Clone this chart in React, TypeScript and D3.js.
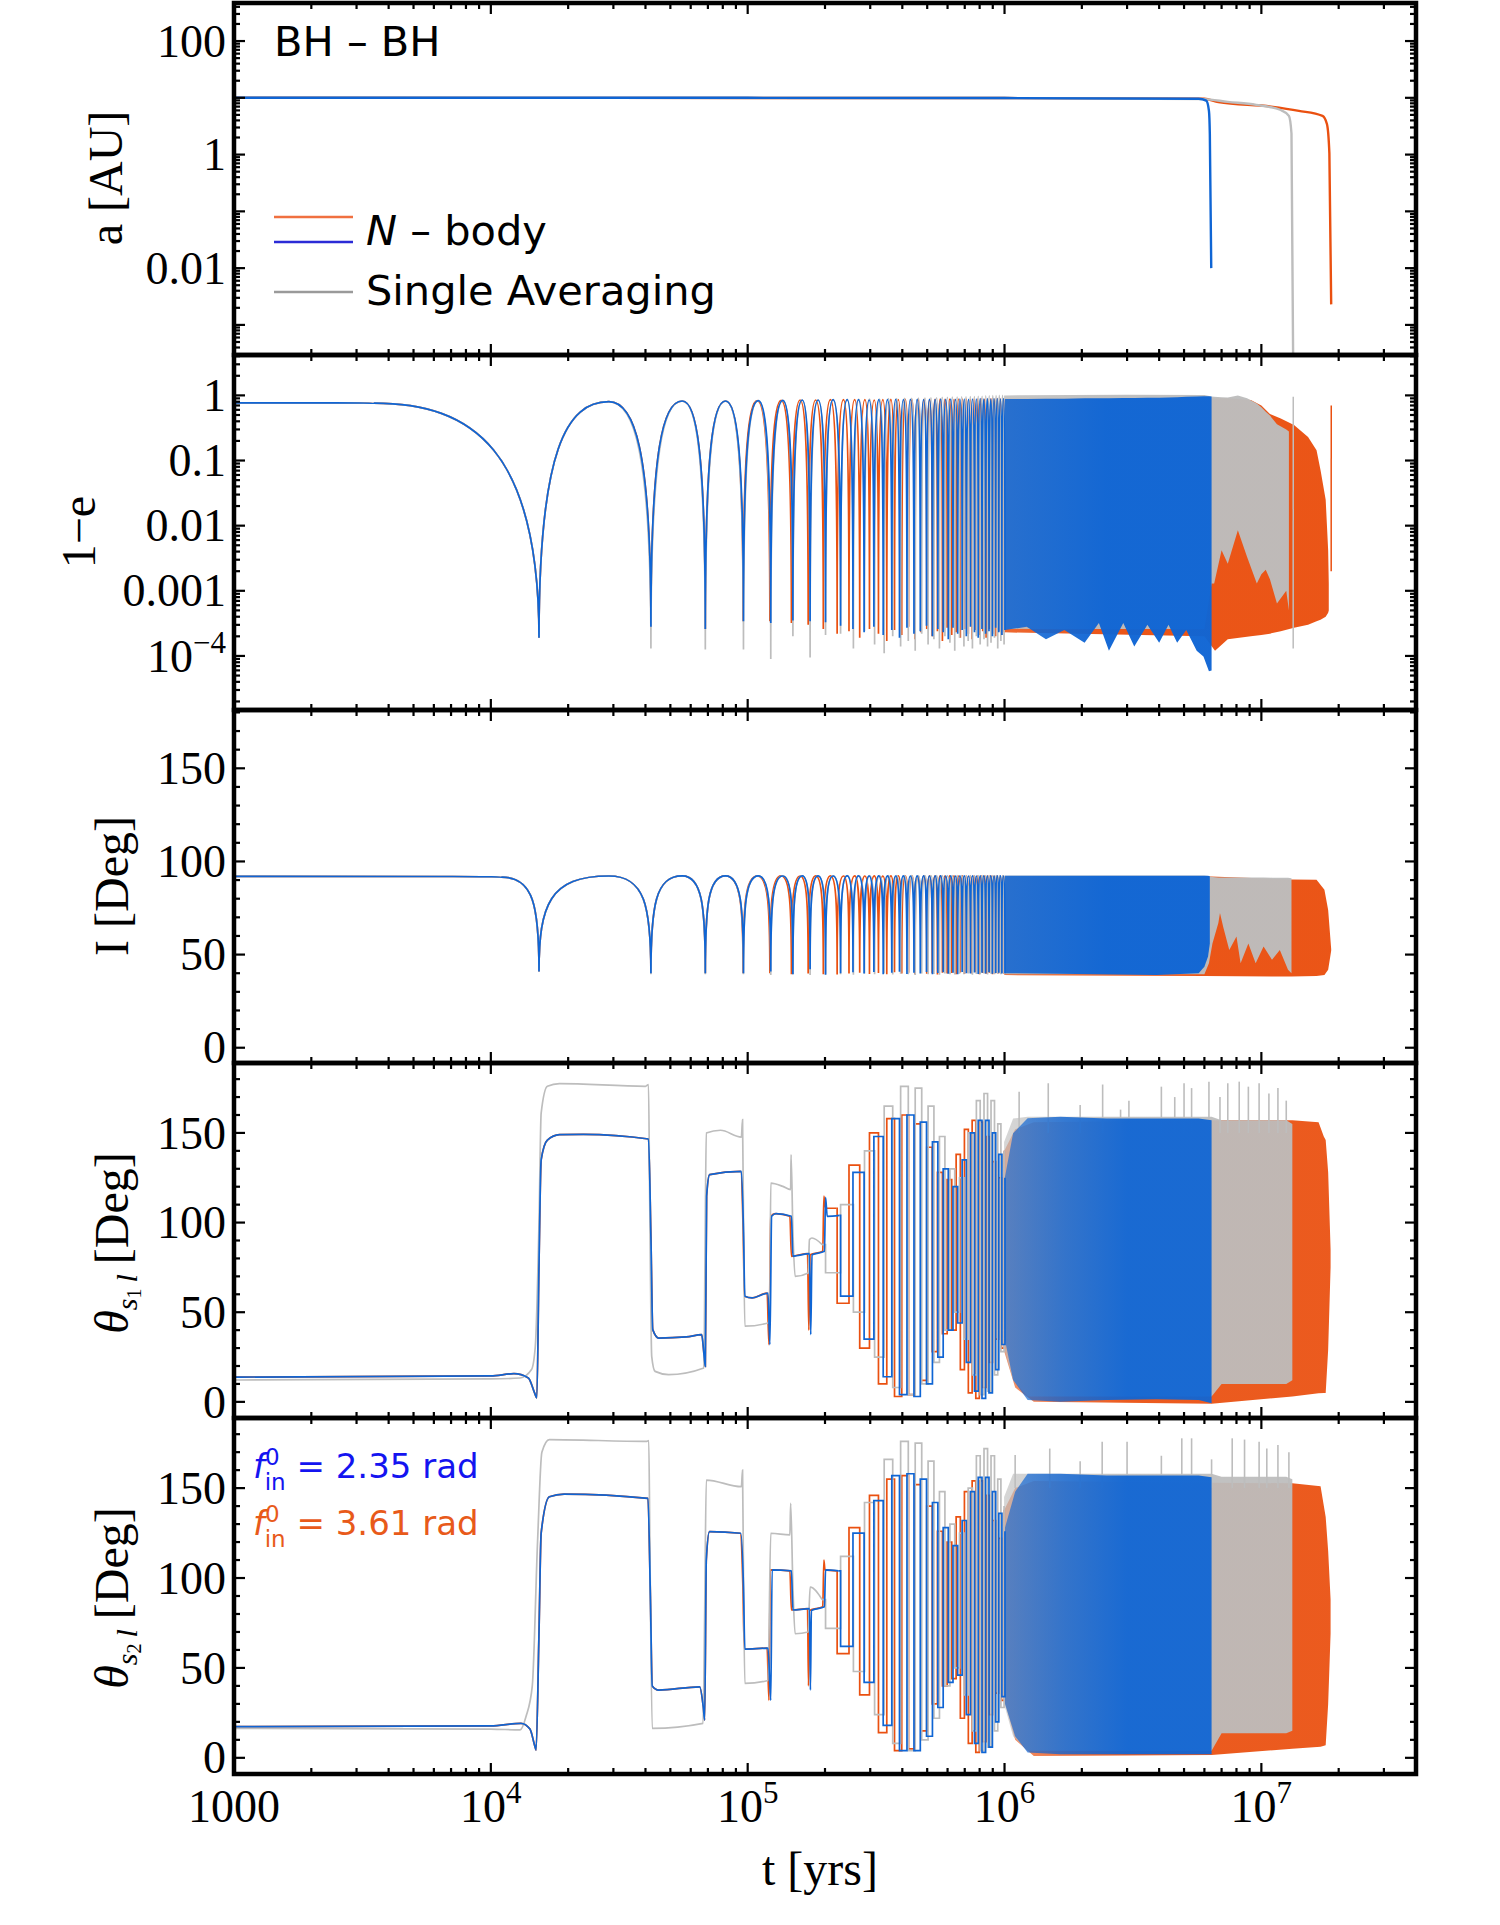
import React from "react";
import * as d3 from "d3";

type P = [number, number];
type B = [number, number, number];

// ---------------- data ----------------
const tDomain: [number, number] = [1000, 4e7];
const xTickVals = [1e3, 1e4, 1e5, 1e6, 1e7];
const xTickBase = ["1000", "10", "10", "10", "10"];
const xTickExp = ["", "4", "5", "6", "7"];

// times of the eccentricity maxima (dips of 1-e) and of the minima between them
const blueDipT = [1.54e4, 4.2e4, 6.84e4, 9.63e4, 1.23e5, 1.5e5, 1.75e5, 2.01e5, 2.3e5, 2.57e5, 2.84e5, 3.1e5, 3.37e5, 3.64e5, 3.9e5, 4.17e5, 4.44e5, 4.7e5, 4.97e5, 5.24e5, 5.5e5, 5.77e5, 6.04e5, 6.3e5, 6.57e5, 6.84e5, 7.1e5, 7.37e5, 7.64e5, 7.9e5, 8.17e5, 8.44e5, 8.7e5, 8.97e5, 9.24e5, 9.5e5, 9.77e5, 1.004e6];
const bluePeakT = [2.88e4, 5.56e4, 8.2e4, 1.1e5, 1.37e5, 1.63e5, 1.88e5, 2.15e5, 2.44e5, 2.7e5, 2.97e5, 3.24e5, 3.5e5, 3.77e5, 4.04e5, 4.3e5, 4.57e5, 4.84e5, 5.1e5, 5.37e5, 5.64e5, 5.9e5, 6.17e5, 6.44e5, 6.7e5, 6.97e5, 7.24e5, 7.5e5, 7.77e5, 8.04e5, 8.3e5, 8.57e5, 8.84e5, 9.1e5, 9.37e5, 9.64e5, 9.9e5];
const orangeDipT = [1.54e4, 4.2e4, 6.84e4, 9.6e4, 1.22e5, 1.48e5, 1.72e5, 1.97e5, 2.23e5, 2.48e5, 2.73e5, 2.98e5, 3.23e5, 3.48e5, 3.73e5, 3.98e5, 4.23e5, 4.48e5, 4.73e5, 4.98e5, 5.23e5, 5.48e5, 5.73e5, 5.98e5, 6.23e5, 6.48e5, 6.73e5, 6.98e5, 7.23e5, 7.48e5, 7.73e5, 7.98e5, 8.23e5, 8.48e5, 8.73e5, 8.98e5, 9.23e5, 9.48e5, 9.73e5, 9.98e5];
const orangePeakT = [2.88e4, 5.56e4, 8.2e4, 1.09e5, 1.35e5, 1.6e5, 1.84e5, 2.1e5, 2.36e5, 2.61e5, 2.86e5, 3.11e5, 3.36e5, 3.61e5, 3.86e5, 4.11e5, 4.36e5, 4.61e5, 4.86e5, 5.11e5, 5.36e5, 5.61e5, 5.86e5, 6.11e5, 6.36e5, 6.61e5, 6.86e5, 7.11e5, 7.36e5, 7.61e5, 7.86e5, 8.11e5, 8.36e5, 8.61e5, 8.86e5, 9.11e5, 9.36e5, 9.61e5, 9.86e5];
const grayDipT = [1.54e4, 4.2e4, 6.84e4, 9.63e4, 1.23e5, 1.5e5, 1.75e5, 2.01e5, 2.3e5, 2.58e5, 2.85e5, 3.12e5, 3.4e5, 3.67e5, 3.94e5, 4.22e5, 4.49e5, 4.76e5, 5.04e5, 5.31e5, 5.58e5, 5.86e5, 6.13e5, 6.4e5, 6.68e5, 6.95e5, 7.22e5, 7.5e5, 7.77e5, 8.04e5, 8.32e5, 8.59e5, 8.86e5, 9.14e5, 9.41e5, 9.68e5, 9.96e5];
const grayPeakT = [2.88e4, 5.56e4, 8.2e4, 1.1e5, 1.37e5, 1.63e5, 1.88e5, 2.15e5, 2.44e5, 2.71e5, 2.98e5, 3.26e5, 3.53e5, 3.8e5, 4.08e5, 4.35e5, 4.62e5, 4.9e5, 5.17e5, 5.44e5, 5.72e5, 5.99e5, 6.26e5, 6.54e5, 6.81e5, 7.08e5, 7.36e5, 7.63e5, 7.9e5, 8.18e5, 8.45e5, 8.72e5, 9.0e5, 9.27e5, 9.54e5, 9.82e5];

// panel 1: a [AU]
const aOrange: P[] = [[1e3, 10], [1e6, 9.9], [6.0e6, 9.6], [6.8e6, 8.4], [1.09e7, 7.0], [1.4e7, 5.9], [1.73e7, 4.8], [1.8e7, 3.45], [1.84e7, 1.05], [1.87e7, 0.0023]];
const aGray: P[] = [[1e3, 10], [1e6, 9.9], [5.97e6, 9.5], [7.4e6, 8.5], [9.55e6, 7.5], [1.19e7, 6.1], [1.28e7, 4.8], [1.31e7, 2.35], [1.33e7, 2e-4]];
const aBlue: P[] = [[1e3, 10], [1e5, 10], [1e6, 9.9], [5.7e6, 9.6], [6.1e6, 8.9], [6.25e6, 5.9], [6.3e6, 2.3], [6.38e6, 0.01]];
const aTicks = [100, 1, 0.01];
const aTickText = ["100", "1", "0.01"];

// panel 2: 1-e
const eStart: P[] = [[1e3, 0.77], [3.5e3, 0.76]];
const eBlueDipV = [1.9e-4, 2.8e-4, 2.6e-4, 3.4e-4, 3.2e-4, 3.5e-4, 3.4e-4, 3.3e-4, 2.9e-4, 2.6e-4, 2.3e-4, 2.8e-4, 2.1e-4, 2.5e-4, 1.9e-4, 2.7e-4, 2.2e-4, 2.4e-4, 2.9e-4, 2.0e-4, 2.6e-4, 2.3e-4, 1.8e-4, 2.7e-4, 2.2e-4, 2.5e-4, 2.0e-4, 2.8e-4, 2.3e-4, 1.9e-4, 2.6e-4, 2.2e-4, 2.4e-4, 2.0e-4, 2.7e-4, 2.3e-4, 2.1e-4, 2.5e-4];
const eBluePeakV = [0.8, 0.82, 0.82, 0.83, 0.84, 0.85, 0.85, 0.86, 0.86, 0.86, 0.85, 0.86, 0.86, 0.87, 0.86, 0.87, 0.87, 0.86, 0.87, 0.87, 0.88, 0.87, 0.88, 0.87, 0.88, 0.88, 0.87, 0.88, 0.88, 0.89, 0.88, 0.89, 0.88, 0.89, 0.89, 0.88, 0.89];
const eOrangeDipV = [1.9e-4, 2.8e-4, 2.6e-4, 3.4e-4, 3.4e-4, 3.2e-4, 3.0e-4, 2.6e-4, 2.2e-4, 2.4e-4, 1.9e-4, 2.6e-4, 2.2e-4, 1.7e-4, 2.5e-4, 2.1e-4, 2.8e-4, 1.8e-4, 2.3e-4, 2.6e-4, 2.0e-4, 2.4e-4, 1.7e-4, 2.7e-4, 2.1e-4, 2.3e-4, 1.9e-4, 2.6e-4, 2.2e-4, 1.8e-4, 2.5e-4, 2.1e-4, 2.4e-4, 1.9e-4, 2.6e-4, 2.2e-4, 2.0e-4, 2.4e-4, 2.1e-4, 2.3e-4];
const eOrangePeakV = [0.8, 0.82, 0.82, 0.83, 0.84, 0.85, 0.85, 0.86, 0.86, 0.86, 0.86, 0.85, 0.86, 0.87, 0.86, 0.87, 0.86, 0.87, 0.87, 0.87, 0.87, 0.88, 0.87, 0.88, 0.87, 0.88, 0.88, 0.88, 0.87, 0.88, 0.88, 0.89, 0.88, 0.88, 0.89, 0.88, 0.89, 0.89, 0.89];
const eGrayDipV = [1.9e-4, 1.3e-4, 1.25e-4, 1.25e-4, 9e-5, 2e-4, 9.5e-5, 2.1e-4, 2.2e-4, 1.3e-4, 2.4e-4, 1.5e-4, 1.1e-4, 2.0e-4, 1.4e-4, 1.7e-4, 1.2e-4, 2.2e-4, 1.5e-4, 1.8e-4, 1.3e-4, 2.0e-4, 1.6e-4, 1.2e-4, 1.9e-4, 1.4e-4, 1.7e-4, 1.3e-4, 2.0e-4, 1.5e-4, 1.8e-4, 1.4e-4, 1.6e-4, 1.9e-4, 1.3e-4, 1.7e-4, 1.5e-4];
const eGrayPeakV = [0.8, 0.82, 0.82, 0.83, 0.84, 0.85, 0.85, 0.86, 0.87, 0.87, 0.88, 0.88, 0.89, 0.89, 0.9, 0.9, 0.91, 0.91, 0.92, 0.92, 0.93, 0.93, 0.94, 0.94, 0.95, 0.95, 0.96, 0.96, 0.97, 0.97, 0.98, 0.98, 0.99, 0.99, 1.0, 1.0];
// dense part: [t, lower envelope, upper envelope]
const eOrangeBand: B[] = [[9.98e5, 2.3e-4, 0.89], [6.0e6, 2.0e-4, 0.9], [6.6e6, 1.2e-4, 0.9], [7.4e6, 1.8e-4, 0.9], [9.1e6, 2.0e-4, 0.85], [1.0e7, 2.1e-4, 0.7], [1.08e7, 2.2e-4, 0.52], [1.19e7, 2.4e-4, 0.44], [1.34e7, 2.7e-4, 0.35], [1.52e7, 3.0e-4, 0.23], [1.64e7, 3.4e-4, 0.144], [1.7e7, 3.6e-4, 0.071], [1.78e7, 4.0e-4, 0.025], [1.82e7, 4.6e-4, 4.2e-3], [1.83e7, 5.0e-4, 1.3e-3]];
const eGrayBand: B[] = [[9.96e5, 2.6e-4, 1.0], [3e6, 2.6e-4, 1.02], [6.0e6, 2.6e-4, 1.01], [6.4e6, 1.3e-3, 0.96], [6.55e6, 1.3e-3, 0.95], [7.0e6, 4.2e-3, 0.94], [7.4e6, 2.6e-3, 0.93], [8.1e6, 8.5e-3, 1.0], [8.8e6, 3.3e-3, 0.9], [9.6e6, 1.3e-3, 0.75], [1.0e7, 1.8e-3, 0.66], [1.04e7, 2.1e-3, 0.56], [1.08e7, 1.5e-3, 0.49], [1.15e7, 6.4e-4, 0.36], [1.25e7, 1.0e-3, 0.3], [1.28e7, 5e-4, 0.28]];
const eBlueBand: B[] = [[1.004e6, 2.5e-4, 0.88], [1.22e6, 2.8e-4, 0.88], [1.45e6, 1.8e-4, 0.89], [1.71e6, 2.5e-4, 0.89], [2.05e6, 1.6e-4, 0.9], [2.33e6, 3.2e-4, 0.9], [2.55e6, 1.2e-4, 0.9], [2.9e6, 3.2e-4, 0.91], [3.2e6, 1.4e-4, 0.91], [3.6e6, 3.0e-4, 0.92], [4.0e6, 1.6e-4, 0.92], [4.35e6, 3.0e-4, 0.93], [4.7e6, 1.6e-4, 0.94], [5.1e6, 2.5e-4, 0.95], [5.6e6, 1.2e-4, 0.96], [5.95e6, 9.8e-5, 0.97], [6.25e6, 5.8e-5, 0.97], [6.4e6, 6e-5, 0.96]];
const eOrangeTail: P[] = [[1.87e7, 2.0e-3], [1.871e7, 0.7]];
const eGrayTail: P[] = [[1.33e7, 1.3e-4], [1.331e7, 0.95]];
const eTicks = [1, 0.1, 0.01, 0.001, 1e-4];
const eTickText = ["1", "0.1", "0.01", "0.001", "10"];
const eTickExp = ["", "", "", "", "\u22124"];

// panel 3: I [Deg]
const iStart: P[] = [[1e3, 92], [1.1e4, 91.6]];
const iBlueDipV = [40.9, 40, 40, 40, 40.9, 39.5, 42.1, 39.2, 40, 40.5, 39.8, 40.6, 39.5, 40.2, 40.8, 39.6, 40.3, 39.9, 40.7, 39.4, 40.1, 40.5, 39.7, 40.2, 39.5, 40.6, 40, 39.8, 40.4, 39.6, 40.2, 39.9, 40.5, 39.7, 40.1, 40.3, 39.8, 40];
const iBluePeakV = [92.2, 92.3, 92.3, 92.3, 92.2, 92.3, 92.3, 92.2, 92.3, 92.3, 92.2, 92.3, 92.3, 92.2, 92.3, 92.2, 92.3, 92.3, 92.2, 92.3, 92.3, 92.2, 92.3, 92.2, 92.3, 92.3, 92.2, 92.3, 92.2, 92.3, 92.3, 92.2, 92.3, 92.2, 92.3, 92.3, 92.2];
const iOrangeDipV = [40.9, 40, 40, 40, 40, 39.5, 39.8, 39.5, 39.3, 39.8, 40.3, 39.6, 40.1, 39.4, 40.5, 39.9, 40.2, 39.5, 40.4, 39.7, 40, 39.3, 40.3, 39.8, 40.1, 39.5, 40.4, 39.6, 40.2, 39.9, 40.5, 39.4, 40.1, 39.7, 40.3, 39.5, 40, 39.8, 40.2, 39.6];
const iOrangePeakV = [92.2, 92.3, 92.3, 92.2, 92.3, 92.2, 92.3, 92.3, 92.2, 92.3, 92.2, 92.3, 92.2, 92.3, 92.3, 92.2, 92.3, 92.2, 92.3, 92.3, 92.2, 92.3, 92.2, 92.3, 92.3, 92.2, 92.3, 92.2, 92.3, 92.3, 92.2, 92.3, 92.2, 92.3, 92.3, 92.2, 92.3, 92.2, 92.3];
const iGrayDipV = [40.9, 39.5, 39.5, 39.5, 39, 39.5, 39, 39.5, 39.5, 39.2, 39.8, 39.4, 39.9, 39.3, 39.7, 39.5, 39.1, 39.8, 39.4, 39.6, 39.2, 39.9, 39.5, 39.3, 39.7, 39.4, 39.8, 39.2, 39.6, 39.5, 39.9, 39.3, 39.7, 39.4, 39.6, 39.5, 39.8];
const iGrayPeakV = [92.2, 92.3, 92.3, 92.3, 92.3, 92.3, 92.3, 92.3, 92.4, 92.4, 92.4, 92.4, 92.4, 92.4, 92.4, 92.4, 92.4, 92.4, 92.4, 92.4, 92.4, 92.4, 92.4, 92.4, 92.4, 92.4, 92.4, 92.4, 92.4, 92.4, 92.4, 92.4, 92.4, 92.4, 92.4, 92.4];
const iOrangeBand: B[] = [[9.98e5, 39, 92], [6e6, 38.5, 92], [1.31e7, 38.2, 90.3], [1.64e7, 38.5, 90.2], [1.76e7, 39, 84.8], [1.82e7, 41.8, 74], [1.87e7, 52, 53]];
const iGrayBand: B[] = [[9.96e5, 39.5, 92.4], [6.0e6, 39.5, 92.4], [6.25e6, 45.4, 92], [6.45e6, 56, 91.6], [6.8e6, 66.9, 91.4], [6.9e6, 72.3, 91.4], [7.1e6, 65, 91.4], [7.5e6, 52.5, 91.4], [8.0e6, 59.7, 91.4], [8.3e6, 45.4, 91.4], [8.9e6, 56, 91.4], [9.5e6, 45.4, 91.4], [1.02e7, 54.3, 91.4], [1.1e7, 47.2, 91.3], [1.18e7, 52.5, 91.2], [1.27e7, 41.8, 91.2], [1.31e7, 40, 91]];
const iBlueBand: B[] = [[1.004e6, 40, 92.3], [3.9e6, 39, 92.3], [5.7e6, 40, 92.3], [6.0e6, 43.5, 92.3], [6.2e6, 49, 92.3], [6.3e6, 56, 92]];
const angTicks = [0, 50, 100, 150];

// panel 4: theta_{s1 l} [Deg]; detailed early part, then level held after each dip
const th1Orange: P[] = [[1e3, 13.8], [1e4, 14.5], [1.23e4, 15.7], [1.4e4, 13.3], [1.48e4, 5], [1.51e4, 2.2], [1.54e4, 77], [1.57e4, 135], [1.66e4, 146], [1.85e4, 149], [2.29e4, 149.2], [4.11e4, 146.6], [4.2e4, 92], [4.27e4, 40.3], [4.51e4, 35.6], [5.77e4, 36.2], [6.62e4, 37.5], [6.77e4, 25.4], [6.84e4, 19.8], [6.92e4, 114.7], [7.11e4, 126.7], [9.4e4, 128.6], [9.6e4, 96], [9.72e4, 58.9], [1.04e5, 58], [1.19e5, 60.7], [1.21e5, 31.9], [1.23e5, 103.5], [1.28e5, 105], [1.46e5, 103.5], [1.48e5, 81.2], [1.53e5, 81.5], [1.71e5, 82.7], [1.73e5, 40], [1.75e5, 82], [1.96e5, 84], [1.98e5, 114.7], [2.01e5, 108], [2.21e5, 108]];
const th1Gray: P[] = [[1e3, 12.2], [1e4, 12.8], [1.3e4, 13.3], [1.44e4, 18], [1.49e4, 31], [1.54e4, 100], [1.57e4, 161], [1.66e4, 176], [1.85e4, 177.5], [4.0e4, 176], [4.11e4, 177], [4.15e4, 120], [4.23e4, 25.4], [4.36e4, 17], [4.92e4, 15.2], [6.75e4, 18.9], [6.82e4, 80], [6.9e4, 150], [7.84e4, 151.5], [9.45e4, 147.7], [9.55e4, 157.4], [9.63e4, 100], [9.75e4, 42.2], [1.2e5, 44], [1.22e5, 60], [1.23e5, 122], [1.37e5, 120.2], [1.47e5, 118.4], [1.475e5, 137.9], [1.5e5, 95], [1.53e5, 70], [1.72e5, 71.9], [1.74e5, 90.5], [1.78e5, 91.4], [1.95e5, 87.7]];
const th1Blue: P[] = [[1e3, 13.8], [1e4, 14.5], [1.23e4, 15.7], [1.4e4, 13.3], [1.48e4, 5], [1.51e4, 2.2], [1.54e4, 77], [1.57e4, 135], [1.66e4, 146], [1.85e4, 149], [2.29e4, 149.2], [4.11e4, 146.6], [4.2e4, 92], [4.27e4, 40.3], [4.51e4, 35.6], [5.77e4, 36.2], [6.62e4, 37.5], [6.77e4, 25.4], [6.84e4, 19.8], [6.92e4, 114.7], [7.11e4, 126.7], [9.45e4, 128.6], [9.63e4, 96], [9.75e4, 58.9], [1.04e5, 58], [1.2e5, 60.7], [1.22e5, 31.9], [1.24e5, 103.5], [1.29e5, 105], [1.48e5, 103.5], [1.5e5, 81.2], [1.55e5, 81.5], [1.74e5, 82.7], [1.76e5, 37.5], [1.78e5, 82], [1.99e5, 84], [2.01e5, 114], [2.04e5, 103.5], [2.28e5, 104]];
const th1BlueLevel = [59, 128, 35, 148, 14, 158, 4, 160, 3, 156, 10, 145, 25, 130, 40, 120, 44, 135, 22, 150, 6, 157, 2, 157, 5, 150, 18, 138, 32, 125];
const th1OrangeLevel = [55, 132, 30, 150, 10, 158, 3, 160, 4, 155, 12, 142, 28, 128, 38, 124, 40, 138, 18, 152, 5, 157, 2, 156, 8, 148, 22, 134, 35, 125, 30, 140];
const th1GrayLevel = [72, 110, 50, 140, 25, 165, 8, 176, 4, 175, 10, 165, 22, 148, 40, 130, 50, 125, 35, 150, 15, 168, 4, 172, 6, 168, 15, 155, 28, 140];
const th1OrangeBand: B[] = [[9.98e5, 28, 140], [1.1e6, 8, 152], [1.3e6, 0, 156], [6.4e6, -1, 157], [1.32e7, 3, 157], [1.67e7, 4.8, 156], [1.75e7, 5, 148], [1.78e7, 5, 146], [1.82e7, 29, 128], [1.86e7, 75, 85]];
const th1GrayBand: B[] = [[9.96e5, 30, 145], [1.08e6, 12, 158], [1.23e6, 3, 159], [6.4e6, 3, 159], [7e6, 10, 157], [1.25e7, 10, 157], [1.32e7, 12, 155]];
const th1BlueBand: B[] = [[1.004e6, 34.5, 125.6], [1.08e6, 12.2, 149.8], [1.23e6, 1.1, 158.2], [1.65e6, 0, 159], [2.5e6, 1.1, 158], [3.9e6, 1.5, 158], [5.7e6, 1.1, 158], [6.4e6, -0.8, 157]];
const th1GraySpikes: P[] = [[1.14e6, 173], [1.48e6, 177.7], [1.97e6, 165.6], [2.41e6, 177], [2.83e6, 163], [3.05e6, 168], [4.08e6, 175.8], [4.6e6, 170], [5.0e6, 177.7], [5.35e6, 175], [6.25e6, 178.6], [6.9e6, 170], [7.4e6, 177.7], [8.2e6, 178.6], [8.9e6, 175.8], [9.8e6, 177.7], [1.07e7, 172], [1.16e7, 175], [1.25e7, 168]];

// panel 5: theta_{s2 l} [Deg]
const th2Orange: P[] = [[1e3, 17.3], [1e4, 17.8], [1.31e4, 19.2], [1.42e4, 16], [1.48e4, 7], [1.5e4, 4.3], [1.54e4, 70], [1.57e4, 125], [1.69e4, 145.2], [1.93e4, 146.7], [4.09e4, 144.3], [4.18e4, 90], [4.25e4, 40], [4.5e4, 37.7], [6.5e4, 39.5], [6.72e4, 28], [6.8e4, 21], [6.9e4, 110], [7.1e4, 125.8], [9.35e4, 124.9], [9.58e4, 95], [9.7e4, 60.5], [1.19e5, 61], [1.21e5, 32], [1.225e5, 104.5], [1.46e5, 104], [1.48e5, 82.2], [1.71e5, 83], [1.725e5, 40], [1.74e5, 82], [1.96e5, 84], [1.98e5, 110], [2.0e5, 104.5], [2.21e5, 104]];
const th2Gray: P[] = [[1e3, 16.4], [1e4, 16], [1.3e4, 15.5], [1.37e4, 22.9], [1.45e4, 40], [1.52e4, 120], [1.58e4, 170], [1.69e4, 177], [4.05e4, 176], [4.12e4, 176.5], [4.16e4, 120], [4.25e4, 16.4], [6.7e4, 19.2], [6.8e4, 80], [6.9e4, 154.5], [9.45e4, 150.8], [9.55e4, 160], [9.63e4, 100], [9.75e4, 41.4], [1.2e5, 43], [1.23e5, 124.9], [1.46e5, 124], [1.47e5, 141.5], [1.5e5, 95], [1.53e5, 69], [1.72e5, 70], [1.75e5, 95], [1.95e5, 88]];
const th2Blue: P[] = [[1e3, 17.3], [1e4, 17.8], [1.31e4, 19.2], [1.42e4, 16], [1.48e4, 7], [1.5e4, 4.3], [1.54e4, 70], [1.57e4, 125], [1.69e4, 145.2], [1.93e4, 146.7], [4.09e4, 144.3], [4.18e4, 90], [4.25e4, 40], [4.5e4, 37.7], [6.5e4, 39.5], [6.72e4, 28], [6.8e4, 21], [6.9e4, 110], [7.1e4, 125.8], [9.4e4, 124.9], [9.63e4, 95], [9.75e4, 60.5], [1.2e5, 61], [1.23e5, 32], [1.245e5, 104.5], [1.48e5, 104], [1.5e5, 82.2], [1.74e5, 83], [1.755e5, 37.7], [1.77e5, 82], [1.99e5, 84], [2.01e5, 104.5], [2.26e5, 104]];
const th2BlueLevel = [62, 125, 42, 143, 18, 157, 4, 158, 4, 155, 12, 142, 28, 128, 42, 118, 46, 132, 24, 148, 8, 156, 3, 156, 6, 148, 20, 136, 34, 126];
const th2OrangeLevel = [58, 128, 35, 146, 14, 155, 4, 157, 5, 152, 15, 140, 30, 126, 40, 120, 44, 134, 22, 148, 8, 154, 3, 154, 9, 146, 24, 132, 36, 122, 32, 138];
const th2GrayLevel = [72, 112, 48, 142, 24, 166, 8, 176, 4, 175, 10, 165, 22, 148, 40, 130, 50, 125, 35, 150, 15, 168, 4, 172, 6, 168, 15, 155, 28, 140];
const th2OrangeBand: B[] = [[9.98e5, 32, 138], [1.1e6, 10, 150], [1.3e6, 1, 154], [6.4e6, 1.6, 153], [1.32e7, 5, 152.7], [1.7e7, 6.2, 151], [1.78e7, 7, 134], [1.82e7, 30, 115], [1.86e7, 69, 88]];
const th2GrayBand: B[] = [[9.96e5, 30, 145], [1.08e6, 12, 158], [1.23e6, 4, 158], [6.4e6, 4, 158], [7e6, 13.6, 156.3], [1.25e7, 13.6, 156.3], [1.32e7, 15, 155]];
const th2BlueBand: B[] = [[1.004e6, 30, 128], [1.1e6, 12, 148], [1.23e6, 3, 158], [1.65e6, 2, 158], [2.5e6, 2, 157], [3.9e6, 2, 157], [5.7e6, 2, 157], [6.4e6, 2, 156]];
const th2GraySpikes: P[] = [[1.1e6, 168.4], [1.5e6, 172], [1.97e6, 165], [2.4e6, 175.8], [3.0e6, 175.8], [4.08e6, 168], [4.9e6, 177.7], [5.35e6, 177.7], [6.4e6, 166], [7.7e6, 177.7], [8.6e6, 177], [9.8e6, 175.8], [1.05e7, 172], [1.16e7, 174], [1.28e7, 170]];

// ---------------- layout & style ----------------
const W = 1500;
const H = 1925;
const X_L = 234;
const X_R = 1416;
const ORANGE = "#ea5010";
const BLUE = "#0f65d4";
const GRAY = "#bdbdbd";
const SERIF = "'Liberation Serif', 'Times New Roman', serif";
const SANS = "'DejaVu Sans', 'Noto Sans', sans-serif";

const xs = d3.scaleLog().domain(tDomain).range([X_L, X_R]);

const panels = [
  { top: 3, bottom: 355, ys: d3.scaleLog().domain([10 ** -3.53, 10 ** 2.67]).range([355, 3]), log: true },
  { top: 355, bottom: 710, ys: d3.scaleLog().domain([10 ** -4.83, 10 ** 0.62]).range([710, 355]), log: true },
  { top: 710, bottom: 1063, ys: d3.scaleLinear().domain([-8.2, 181.3]).range([1063, 710]), log: false },
  { top: 1063, bottom: 1418, ys: d3.scaleLinear().domain([-9, 189]).range([1418, 1063]), log: false },
  { top: 1418, bottom: 1774, ys: d3.scaleLinear().domain([-9, 189]).range([1774, 1418]), log: false },
];

const xMinor = xTickVals.flatMap((d) => d3.range(2, 10).map((k) => k * d)).filter((v) => v < tDomain[1]);

function logTicks(ys: any) {
  const [a, b] = ys.domain();
  const major: number[] = [];
  const minor: number[] = [];
  for (let k = Math.floor(Math.log10(a)); k <= Math.floor(Math.log10(b)); k++) {
    const d = 10 ** k;
    if (d >= a && d <= b) major.push(d);
    for (let m = 2; m < 10; m++) if (m * d > a && m * d < b) minor.push(m * d);
  }
  return { major, minor };
}
function linTicks(ys: any) {
  const [a, b] = ys.domain();
  const major = d3.range(0, b, 50).filter((v) => v >= a);
  const minor = d3.range(10, b, 10).filter((v) => v % 50 !== 0);
  return { major, minor };
}

// interleave dips and peaks into one list of extrema
function cycles(start: P[], dipT: number[], dipV: number[], peakT: number[], peakV: number[]): P[] {
  const pts: P[] = [...start];
  const n = Math.min(dipT.length, dipV.length);
  for (let k = 0; k < n; k++) {
    pts.push([dipT[k], dipV[k]]);
    if (k < n - 1 && k < peakT.length && k < peakV.length) pts.push([peakT[k], peakV[k]]);
  }
  return pts;
}
// level held after each dip, starting from the last detailed point
function steps(head: P[], dipT: number[], levels: number[]): P[] {
  const last = head[head.length - 1];
  const from = dipT.findIndex((t) => t > last[0]);
  const pts: P[] = [last];
  levels.forEach((v, j) => {
    if (from + j < dipT.length) pts.push([dipT[from + j], v]);
  });
  return pts;
}

// peak -> dip: flat at the peak, vertical at the dip (and the reverse on the way up)
function cyclePath(pts: P[], ys: any, kPeak: number, kDip: number) {
  const p = d3.path();
  const q = pts.map(([t, v]) => [xs(t), ys(v)]);
  p.moveTo(q[0][0], q[0][1]);
  for (let i = 1; i < q.length; i++) {
    const [x0, y0] = q[i - 1];
    const [x1, y1] = q[i];
    const dx = x1 - x0;
    const dy = y1 - y0;
    if (dy >= 0) p.bezierCurveTo(x0 + kPeak * dx, y0, x1, y1 - kDip * dy, x1, y1);
    else p.bezierCurveTo(x0, y0 + kDip * dy, x1 - kPeak * dx, y1, x1, y1);
  }
  return p.toString();
}
const smooth = (ys: any) => d3.line<P>().x((d) => xs(d[0])).y((d) => ys(d[1])).curve(d3.curveMonotoneX);
const straight = (ys: any) => d3.line<P>().x((d) => xs(d[0])).y((d) => ys(d[1]));
const stepped = (ys: any) => d3.line<P>().x((d) => xs(d[0])).y((d) => ys(d[1])).curve(d3.curveStepAfter);
const band = (ys: any) => d3.area<B>().x((d) => xs(d[0])).y0((d) => ys(d[1])).y1((d) => ys(d[2]));

function Frame({ i }: { i: number }) {
  const { top, bottom, ys, log } = panels[i];
  const yt = log ? logTicks(ys) : linTicks(ys);
  const lines: any[] = [];
  const seg = (k: string, x1: number, y1: number, x2: number, y2: number) =>
    lines.push(<line key={k} x1={x1} y1={y1} x2={x2} y2={y2} />);
  xTickVals.forEach((t, j) => {
    if (j === 0) return;
    seg(`xt${j}`, xs(t), top, xs(t), top + 11);
    seg(`xb${j}`, xs(t), bottom, xs(t), bottom - 11);
  });
  xMinor.forEach((t, j) => {
    seg(`mt${j}`, xs(t), top, xs(t), top + 6);
    seg(`mb${j}`, xs(t), bottom, xs(t), bottom - 6);
  });
  yt.major.forEach((v, j) => {
    seg(`yl${j}`, X_L, ys(v), X_L + 11, ys(v));
    seg(`yr${j}`, X_R, ys(v), X_R - 11, ys(v));
  });
  yt.minor.forEach((v, j) => {
    seg(`ml${j}`, X_L, ys(v), X_L + 6, ys(v));
    seg(`mr${j}`, X_R, ys(v), X_R - 6, ys(v));
  });
  return (
    <g>
      <g stroke="#000" strokeWidth={2.2}>{lines}</g>
      <rect x={X_L} y={top} width={X_R - X_L} height={bottom - top} fill="none" stroke="#000" strokeWidth={4.5} />
    </g>
  );
}

function YLabels({ i, vals, texts, exps }: { i: number; vals: number[]; texts: string[]; exps?: string[] }) {
  const ys = panels[i].ys;
  return (
    <g fontFamily={SERIF} fontSize={46} textAnchor="end">
      {vals.map((v, j) => (
        <text key={j} x={226} y={ys(v)} dy="0.34em">
          {texts[j]}
          {exps && exps[j] ? <tspan fontSize={31} dy={-19}>{exps[j]}</tspan> : null}
        </text>
      ))}
    </g>
  );
}

const gradColors = [["Or", ORANGE], ["Gr", GRAY], ["Bl", BLUE]];

function Defs() {
  return (
    <defs>
      {panels.map((p, i) => (
        <clipPath key={i} id={`clip${i}`}>
          <rect x={X_L} y={p.top} width={X_R - X_L} height={p.bottom - p.top} />
        </clipPath>
      ))}
      {gradColors.map(([id, c]) => (
        <linearGradient key={id} id={`g${id}`} gradientUnits="userSpaceOnUse" x1={xs(1e6)} x2={xs(2.5e6)} y1={0} y2={0}>
          <stop offset="0" stopColor={c} stopOpacity={0.86} />
          <stop offset="1" stopColor={c} stopOpacity={0.97} />
        </linearGradient>
      ))}
      {gradColors.map(([id, c]) => (
        <linearGradient key={id + "T"} id={`g${id}T`} gradientUnits="userSpaceOnUse" x1={xs(1e6)} x2={xs(3e6)} y1={0} y2={0}>
          <stop offset="0" stopColor={c} stopOpacity={0.62} />
          <stop offset="0.5" stopColor={c} stopOpacity={0.8} />
          <stop offset="1" stopColor={c} stopOpacity={0.94} />
        </linearGradient>
      ))}
    </defs>
  );
}

function AnglePanel({ idx, clip, orange, gray, blue, oLev, gLev, bLev, oBand, gBand, bBand, spikes }: any) {
  const ys = panels[idx].ys;
  const lw = 1.7;
  return (
    <g clipPath={`url(#${clip})`} fill="none">
      <path d={band(ys)(oBand)!} fill="url(#gOrT)" />
      <path d={smooth(ys)(orange)!} stroke={ORANGE} strokeWidth={lw} />
      <path d={stepped(ys)(steps(orange, orangeDipT, oLev))!} stroke={ORANGE} strokeWidth={lw} />
      <path d={band(ys)(gBand)!} fill="url(#gGrT)" />
      <path d={smooth(ys)(gray)!} stroke={GRAY} strokeWidth={lw} />
      <path d={stepped(ys)(steps(gray, grayDipT, gLev))!} stroke={GRAY} strokeWidth={lw} />
      <g stroke={GRAY} strokeWidth={1.6}>
        {spikes.map((d: P, j: number) => (
          <line key={j} x1={xs(d[0])} x2={xs(d[0])} y1={ys(150)} y2={ys(d[1])} />
        ))}
      </g>
      <path d={band(ys)(bBand)!} fill="url(#gBlT)" />
      <path d={smooth(ys)(blue)!} stroke={BLUE} strokeWidth={lw} />
      <path d={stepped(ys)(steps(blue, blueDipT, bLev))!} stroke={BLUE} strokeWidth={lw} />
    </g>
  );
}

export default function App() {
  const [p1, p2, p3] = panels;
  const lw = 1.7;
  const eO = cycles(eStart, orangeDipT, eOrangeDipV, orangePeakT, eOrangePeakV);
  const eG = cycles(eStart, grayDipT, eGrayDipV, grayPeakT, eGrayPeakV);
  const eB = cycles(eStart, blueDipT, eBlueDipV, bluePeakT, eBluePeakV);
  const iO = cycles(iStart, orangeDipT, iOrangeDipV, orangePeakT, iOrangePeakV);
  const iG = cycles(iStart, grayDipT, iGrayDipV, grayPeakT, iGrayPeakV);
  const iB = cycles(iStart, blueDipT, iBlueDipV, bluePeakT, iBluePeakV);
  return (
    <svg width={W} height={H} style={{ position: "absolute", left: 0, top: 0, background: "#fff" }}>
      <Defs />
      <rect x={0} y={0} width={W} height={H} fill="#fff" />

      {/* panel 1: a */}
      <g clipPath="url(#clip0)" fill="none" strokeWidth={2.4}>
        <path d={smooth(p1.ys)(aOrange)!} stroke={ORANGE} />
        <path d={smooth(p1.ys)(aGray)!} stroke={GRAY} />
        <path d={smooth(p1.ys)(aBlue)!} stroke={BLUE} />
      </g>

      {/* panel 2: 1-e */}
      <g clipPath="url(#clip1)" fill="none">
        <path d={band(p2.ys)(eOrangeBand)!} fill="url(#gOr)" />
        <path d={cyclePath(eO, p2.ys, 0.6, 0.8)} stroke={ORANGE} strokeWidth={lw} />
        <path d={straight(p2.ys)(eOrangeTail)!} stroke={ORANGE} strokeWidth={1.5} />
        <path d={band(p2.ys)(eGrayBand)!} fill="url(#gGr)" />
        <path d={cyclePath(eG, p2.ys, 0.6, 0.8)} stroke={GRAY} strokeWidth={lw} />
        <path d={straight(p2.ys)(eGrayTail)!} stroke={GRAY} strokeWidth={1.5} />
        <path d={band(p2.ys)(eBlueBand)!} fill="url(#gBl)" />
        <path d={cyclePath(eB, p2.ys, 0.6, 0.8)} stroke={BLUE} strokeWidth={lw} />
      </g>

      {/* panel 3: I */}
      <g clipPath="url(#clip2)" fill="none">
        <path d={band(p3.ys)(iOrangeBand)!} fill="url(#gOr)" />
        <path d={cyclePath(iO, p3.ys, 0.85, 0.7)} stroke={ORANGE} strokeWidth={lw} />
        <path d={band(p3.ys)(iGrayBand)!} fill="url(#gGr)" />
        <path d={cyclePath(iG, p3.ys, 0.85, 0.7)} stroke={GRAY} strokeWidth={lw} />
        <path d={band(p3.ys)(iBlueBand)!} fill="url(#gBl)" />
        <path d={cyclePath(iB, p3.ys, 0.85, 0.7)} stroke={BLUE} strokeWidth={lw} />
      </g>

      <AnglePanel idx={3} clip="clip3" orange={th1Orange} gray={th1Gray} blue={th1Blue}
        oLev={th1OrangeLevel} gLev={th1GrayLevel} bLev={th1BlueLevel}
        oBand={th1OrangeBand} gBand={th1GrayBand} bBand={th1BlueBand} spikes={th1GraySpikes} />
      <AnglePanel idx={4} clip="clip4" orange={th2Orange} gray={th2Gray} blue={th2Blue}
        oLev={th2OrangeLevel} gLev={th2GrayLevel} bLev={th2BlueLevel}
        oBand={th2OrangeBand} gBand={th2GrayBand} bBand={th2BlueBand} spikes={th2GraySpikes} />

      {panels.map((_, i) => (
        <Frame key={i} i={i} />
      ))}

      <YLabels i={0} vals={aTicks} texts={aTickText} />
      <YLabels i={1} vals={eTicks} texts={eTickText} exps={eTickExp} />
      <YLabels i={2} vals={angTicks} texts={angTicks.map(String)} />
      <YLabels i={3} vals={angTicks} texts={angTicks.map(String)} />
      <YLabels i={4} vals={angTicks} texts={angTicks.map(String)} />

      {/* x tick labels */}
      <g fontFamily={SERIF} fontSize={46} textAnchor="middle">
        {xTickVals.map((t, j) => (
          <text key={j} x={xs(t)} y={1822}>
            {xTickBase[j]}
            {xTickExp[j] ? <tspan fontSize={31} dy={-19}>{xTickExp[j]}</tspan> : null}
          </text>
        ))}
      </g>
      <text x={820} y={1885} fontFamily={SERIF} fontSize={48} textAnchor="middle">t [yrs]</text>

      {/* axis titles */}
      <g fontFamily={SERIF} fontSize={48} textAnchor="middle">
        <text transform="translate(122,178) rotate(-90)">a [AU]</text>
        <text transform="translate(95,532) rotate(-90)">1{"\u2212"}e</text>
        <text transform="translate(128,886) rotate(-90)">I [Deg]</text>
        <text transform="translate(128,1243) rotate(-90)">
          <tspan fontStyle="italic">{"\u03b8"}</tspan>
          <tspan fontSize={30} fontStyle="italic" dy={9}>s</tspan>
          <tspan fontSize={20} dy={4}>1</tspan>
          <tspan fontSize={30} fontStyle="italic" dy={-4} dx={6}>l</tspan>
          <tspan dy={-9} dx={10}>[Deg]</tspan>
        </text>
        <text transform="translate(128,1598) rotate(-90)">
          <tspan fontStyle="italic">{"\u03b8"}</tspan>
          <tspan fontSize={30} fontStyle="italic" dy={9}>s</tspan>
          <tspan fontSize={20} dy={4}>2</tspan>
          <tspan fontSize={30} fontStyle="italic" dy={-4} dx={6}>l</tspan>
          <tspan dy={-9} dx={10}>[Deg]</tspan>
        </text>
      </g>

      {/* legend, panel 1 */}
      <g fontFamily={SANS} fontSize={41.5}>
        <text x={274} y={56}>BH {"\u2013"} BH</text>
        <line x1={274} x2={353} y1={217} y2={217} stroke="#f07040" strokeWidth={2.5} />
        <line x1={274} x2={353} y1={242} y2={242} stroke="#2b2bd6" strokeWidth={2.5} />
        <text x={366} y={245}>
          <tspan fontStyle="italic">N</tspan> {"\u2013"} body
        </text>
        <line x1={274} x2={353} y1={292} y2={292} stroke="#9a9a9a" strokeWidth={2.5} />
        <text x={366} y={305}>Single Averaging</text>
      </g>

      {/* initial phase labels, panel 5 */}
      <g fontFamily={SANS} fontSize={34}>
        <text x={253} y={1478} fill="#1414f0">
          <tspan fontStyle="italic">f</tspan>
          <tspan fontSize={23} dy={-13}>0</tspan>
          <tspan fontSize={23} dx={-15} dy={25}>in</tspan>
          <tspan dy={-12}> = 2.35 rad</tspan>
        </text>
        <text x={253} y={1535} fill="#e85a1a">
          <tspan fontStyle="italic">f</tspan>
          <tspan fontSize={23} dy={-13}>0</tspan>
          <tspan fontSize={23} dx={-15} dy={25}>in</tspan>
          <tspan dy={-12}> = 3.61 rad</tspan>
        </text>
      </g>
    </svg>
  );
}
